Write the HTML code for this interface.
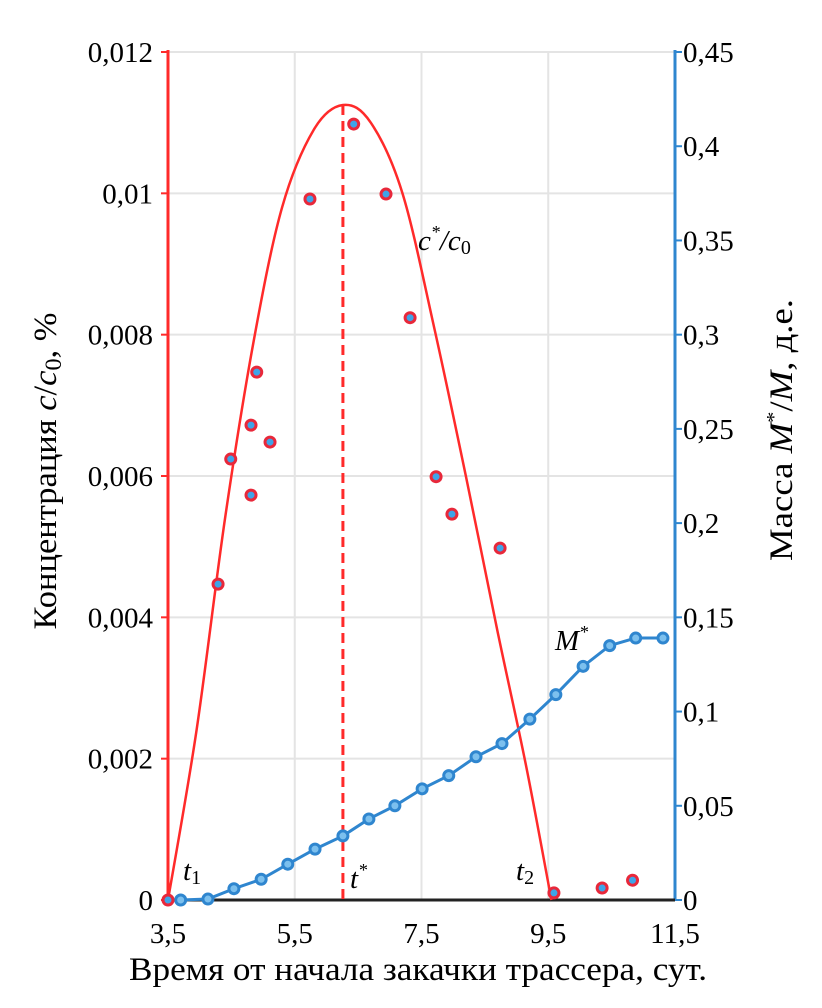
<!DOCTYPE html>
<html><head><meta charset="utf-8"><style>
html,body{margin:0;padding:0;background:#fff}
svg{display:block;font-family:"Liberation Serif",serif}
</style></head><body>
<svg id="chart" width="822" height="1008" viewBox="0 0 822 1008">
<g id="grid"></g>
<g id="axes"></g>
<g id="series"></g>
<text x="418" y="980" font-size="33" text-anchor="middle" textLength="578" lengthAdjust="spacingAndGlyphs">Время от начала закачки трассера, сут.</text>
<text transform="translate(56,471) rotate(-90)" font-size="33" text-anchor="middle" textLength="317" lengthAdjust="spacingAndGlyphs">Концентрация <tspan font-style="italic">c</tspan>/<tspan font-style="italic">c</tspan><tspan font-size="23" dy="5">0</tspan><tspan dy="-5">, %</tspan></text>
<text transform="translate(792,430) rotate(-90)" font-size="33" text-anchor="middle" textLength="262" lengthAdjust="spacingAndGlyphs">Масса <tspan font-style="italic">M</tspan><tspan font-size="20" dy="-12">*</tspan><tspan dy="12">/</tspan><tspan font-style="italic">M</tspan>, д.е.</text>
<text x="418" y="250" font-size="29" font-style="italic">c<tspan font-size="18" dy="-12">*</tspan><tspan dy="12">/c</tspan><tspan font-size="20" dy="4" font-style="normal">0</tspan></text>
<text x="555" y="650" font-size="29" font-style="italic">M<tspan font-size="18" dy="-12">*</tspan></text>
<text x="183" y="880" font-size="29" font-style="italic">t<tspan font-size="20" dy="4" font-style="normal">1</tspan></text>
<text x="350" y="888" font-size="29" font-style="italic">t<tspan font-size="18" dy="-12">*</tspan></text>
<text x="516" y="880" font-size="29" font-style="italic">t<tspan font-size="20" dy="4" font-style="normal">2</tspan></text>
</svg>
<script>
const xTicks=[3.5,5.5,7.5,9.5,11.5];
const xTickLabels=["3,5","5,5","7,5","9,5","11,5"];
const leftTicks=[0,0.002,0.004,0.006,0.008,0.01,0.012];
const leftTickLabels=["0","0,002","0,004","0,006","0,008","0,01","0,012"];
const rightTicks=[0,0.05,0.1,0.15,0.2,0.25,0.3,0.35,0.4,0.45];
const rightTickLabels=["0","0,05","0,1","0,15","0,2","0,25","0,3","0,35","0,4","0,45"];
const curveT=[3.5,3.95,4.4,4.85,5.3,5.8,6.26,6.7,7.2,7.7,8.2,8.7,9.15,9.55];
const curveC=[0,0.0024,0.0054,0.0079,0.0098,0.0109,0.01125,0.0110,0.0100,0.0081,0.0060,0.0038,0.0019,0];
const obsT=[3.5,4.29,4.49,4.81,4.81,4.9,5.11,5.74,6.43,6.94,7.32,7.73,7.98,8.74,9.59,10.35,10.83];
const obsC=[0,0.00447,0.00624,0.00672,0.00573,0.00747,0.00648,0.00992,0.01098,0.00999,0.00824,0.00599,0.00546,0.00498,0.0001,0.00017,0.00028];
const massT=[3.7,4.13,4.54,4.97,5.39,5.82,6.26,6.67,7.08,7.51,7.93,8.36,8.77,9.21,9.62,10.05,10.47,10.88,11.31];
const massM=[0,0.0005,0.006,0.011,0.019,0.027,0.034,0.043,0.05,0.059,0.066,0.076,0.083,0.096,0.109,0.124,0.135,0.139,0.139];
const tStar=6.26;

const NS="http://www.w3.org/2000/svg";
const X0=168,X1=675,Y0=900,Y1=52;
const sx=t=>X0+(t-3.5)/8*(X1-X0);
const syL=v=>Y0-v/0.012*(Y0-Y1);
const syR=v=>Y0-v/0.45*(Y0-Y1);
function mk(tag,attrs,parent){const e=document.createElementNS(NS,tag);for(const k in attrs)e.setAttribute(k,attrs[k]);parent.appendChild(e);return e;}
const grid=document.getElementById('grid'),axes=document.getElementById('axes'),ser=document.getElementById('series');
const RED="#ff2a2a",BLUE="#2f86cf";
xTicks.forEach((t,i)=>{
  const l=mk('line',{x1:sx(t),x2:sx(t),y1:Y1,y2:Y0,stroke:'#e4e4e4','stroke-width':2},grid);
  
  
  const tx=mk('text',{x:sx(t),y:943,'font-size':29,'text-anchor':'middle'},axes);
  tx.textContent=xTickLabels[i];
  
  
});
leftTicks.forEach((v,i)=>{
  if(v>0){const l=mk('line',{x1:X0,x2:X1,y1:syL(v),y2:syL(v),stroke:'#e4e4e4','stroke-width':2},grid);
  
  }
  const tk=mk('line',{x1:X0-7,x2:X0,y1:syL(v),y2:syL(v),stroke:RED,'stroke-width':2},axes);
  
  
  const tx=mk('text',{x:X0-15,y:syL(v)+10,'font-size':29,'text-anchor':'end'},axes);
  tx.textContent=leftTickLabels[i];
  
  
});
rightTicks.forEach((v,i)=>{
  const tk=mk('line',{x1:X1,x2:X1+7,y1:syR(v),y2:syR(v),stroke:BLUE,'stroke-width':2},axes);
  
  
  const tx=mk('text',{x:X1+8,y:syR(v)+10,'font-size':29},axes);
  tx.textContent=rightTickLabels[i];
  
  
});
let a=mk('line',{x1:X0,x2:X0,y1:Y1-2,y2:Y0,stroke:RED,'stroke-width':3},axes);


a=mk('line',{x1:X1,x2:X1,y1:Y1-2,y2:Y0,stroke:BLUE,'stroke-width':3},axes);


a=mk('line',{x1:X0,x2:X1,y1:Y0,y2:Y0,stroke:'#222','stroke-width':3},axes);


const P=curveT.map((t,i)=>[sx(t),syL(curveC[i])]);
let d=`M${P[0][0]},${P[0][1]}`;
for(let i=0;i<P.length-1;i++){const p0=P[i-1]||P[i],p1=P[i],p2=P[i+1],p3=P[i+2]||P[i+1];
 d+=` C${p1[0]+(p2[0]-p0[0])/6},${p1[1]+(p2[1]-p0[1])/6} ${p2[0]-(p3[0]-p1[0])/6},${p2[1]-(p3[1]-p1[1])/6} ${p2[0]},${p2[1]}`;}
const cp=mk('path',{d:d,fill:'none',stroke:RED,'stroke-width':2.5},ser);


const peakC=curveC[curveT.indexOf(tStar)];
const dl=mk('line',{x1:sx(tStar),x2:sx(tStar),y1:syL(peakC),y2:Y0,stroke:RED,'stroke-width':3,'stroke-dasharray':'10,6'},ser);


const mp=mk('polyline',{points:massT.map((t,i)=>sx(t)+','+syR(massM[i])).join(' '),fill:'none',stroke:BLUE,'stroke-width':3},ser);


massT.forEach((t,i)=>{const c=mk('circle',{cx:sx(t),cy:syR(massM[i]),r:5,fill:'#7cc0ee',stroke:BLUE,'stroke-width':3},ser);
 
 });
obsT.forEach((t,i)=>{const c=mk('circle',{cx:sx(t),cy:syL(obsC[i]),r:5,fill:'#3ea4e8',stroke:'#e8283a','stroke-width':3},ser);
 
 });
</script>
</body></html>
